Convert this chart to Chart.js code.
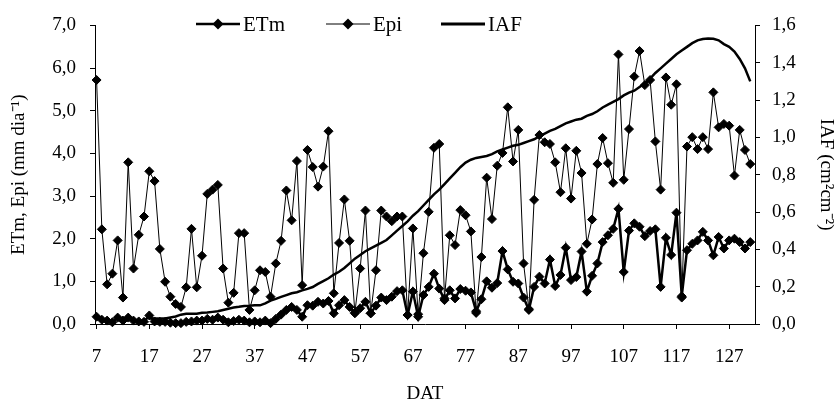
<!DOCTYPE html>
<html>
<head>
<meta charset="utf-8">
<script src="https://cdn.jsdelivr.net/npm/chart.js@4/dist/chart.umd.min.js"></script>
<style>
  html, body { margin: 0; padding: 0; background: #fff; }
  #wrap { width: 838px; height: 406px; position: relative; }
</style>
</head>
<body>
<div id="wrap"><canvas id="chart"></canvas></div>
<script>
// days after transplanting (DAT)
const days = [
  7, 8, 9, 10, 11, 12, 13, 14, 15, 16,
  17, 18, 19, 20, 21, 22, 23, 24, 25, 26,
  27, 28, 29, 30, 31, 32, 33, 34, 35, 36,
  37, 38, 39, 40, 41, 42, 43, 44, 45, 46,
  47, 48, 49, 50, 51, 52, 53, 54, 55, 56,
  57, 58, 59, 60, 61, 62, 63, 64, 65, 66,
  67, 68, 69, 70, 71, 72, 73, 74, 75, 76,
  77, 78, 79, 80, 81, 82, 83, 84, 85, 86,
  87, 88, 89, 90, 91, 92, 93, 94, 95, 96,
  97, 98, 99, 100, 101, 102, 103, 104, 105, 106,
  107, 108, 109, 110, 111, 112, 113, 114, 115, 116,
  117, 118, 119, 120, 121, 122, 123, 124, 125, 126,
  127, 128, 129, 130, 131
];
const xTicks = [7, 17, 27, 37, 47, 57, 67, 77, 87, 97, 107, 117, 127];

// ETm (mm dia-1)
const etm = [
  0.17, 0.10, 0.08, 0.04, 0.15, 0.08, 0.15, 0.08, 0.06, 0.05,
  0.20, 0.06, 0.05, 0.05, 0.03, 0.02, 0.02, 0.05, 0.06, 0.08,
  0.08, 0.12, 0.10, 0.15, 0.10, 0.04, 0.07, 0.10, 0.08, 0.04,
  0.06, 0.04, 0.08, 0.02, 0.12, 0.22, 0.33, 0.40, 0.33, 0.17,
  0.44, 0.43, 0.52, 0.48, 0.54, 0.25, 0.44, 0.56, 0.40, 0.25,
  0.37, 0.52, 0.25, 0.43, 0.62, 0.56, 0.64, 0.77, 0.79, 0.21,
  0.76, 0.17, 0.68, 0.87, 1.18, 0.83, 0.56, 0.79, 0.60, 0.82,
  0.78, 0.74, 0.30, 0.58, 1.00, 0.85, 0.96, 1.71, 1.28, 0.99,
  0.95, 0.62, 0.33, 0.87, 1.11, 0.95, 1.51, 0.89, 1.15, 1.79,
  1.03, 1.10, 1.70, 0.76, 1.13, 1.42, 1.92, 2.08, 2.23, 2.70,
  1.22, 2.19, 2.36, 2.28, 2.06, 2.18, 2.22, 0.87, 2.02, 1.62,
  2.61, 0.65, 1.73, 1.88, 1.96, 2.16, 1.96, 1.61, 2.04, 1.77,
  1.96, 2.00, 1.92, 1.77, 1.92
];

// Epi (mm dia-1)
const epi = [
  5.72, 2.22, 0.93, 1.18, 1.96, 0.62, 3.79, 1.30, 2.09, 2.52,
  3.58, 3.35, 1.76, 0.99, 0.64, 0.47, 0.40, 0.86, 2.23, 0.86,
  1.60, 3.05, 3.15, 3.26, 1.30, 0.50, 0.73, 2.13, 2.13, 0.33,
  0.79, 1.26, 1.22, 0.64, 1.42, 1.95, 3.13, 2.43, 3.82, 0.91,
  4.08, 3.68, 3.22, 3.69, 4.52, 0.72, 1.90, 2.92, 1.95, 0.27,
  1.30, 2.66, 0.25, 1.26, 2.66, 2.52, 2.41, 2.52, 2.52, 0.21,
  2.24, 0.23, 1.66, 2.63, 4.13, 4.22, 0.60, 2.08, 1.85, 2.67,
  2.55, 2.17, 0.26, 1.57, 3.43, 2.46, 3.71, 4.01, 5.08, 3.81,
  4.55, 1.42, 0.35, 2.91, 4.43, 4.26, 4.22, 3.79, 3.09, 4.12,
  2.94, 4.06, 3.54, 1.88, 2.45, 3.75, 4.36, 3.77, 3.31, 6.32,
  3.38, 4.57, 5.80, 6.40, 5.60, 5.72, 4.28, 3.15, 5.78, 5.14,
  5.62, 0.62, 4.16, 4.38, 4.10, 4.38, 4.10, 5.43, 4.61, 4.69,
  4.65, 3.48, 4.55, 4.08, 3.75
];

// IAF (cm2 cm-2), measured from 17 DAT on
const iaf = [
  null, null, null, null, null, null, null, null, null, null,
  0.03, 0.03, 0.03, 0.03, 0.035, 0.04, 0.05, 0.055, 0.055, 0.055,
  0.06, 0.062, 0.065, 0.068, 0.075, 0.082, 0.088, 0.092, 0.097, 0.098,
  0.10, 0.10, 0.11, 0.125, 0.135, 0.145, 0.155, 0.165, 0.17, 0.18,
  0.188, 0.198, 0.215, 0.23, 0.245, 0.265, 0.28, 0.30, 0.325, 0.35,
  0.37, 0.39, 0.405, 0.42, 0.435, 0.45, 0.475, 0.50, 0.525, 0.55,
  0.58, 0.605, 0.635, 0.665, 0.695, 0.72, 0.75, 0.78, 0.81, 0.84,
  0.865, 0.88, 0.89, 0.895, 0.90, 0.91, 0.925, 0.935, 0.945, 0.955,
  0.96, 0.97, 0.98, 0.99, 1.005, 1.02, 1.035, 1.045, 1.06, 1.075,
  1.085, 1.095, 1.10, 1.115, 1.125, 1.14, 1.16, 1.175, 1.19, 1.205,
  1.225, 1.24, 1.25, 1.27, 1.29, 1.315, 1.345, 1.37, 1.395, 1.42,
  1.445, 1.465, 1.485, 1.505, 1.52, 1.527, 1.53, 1.528, 1.52, 1.50,
  1.485, 1.46, 1.42, 1.37, 1.30
];

const FONT = "'Liberation Serif', 'Times New Roman', serif";
const comma = v => v.toFixed(1).replace('.', ',');
const pts = arr => days.map((d, i) => ({ x: d, y: arr[i] }));

// legend drawn like the excel one: line + diamond + text
const legendItems = [
  { text: 'ETm', x: 196, lw: 2.5, marker: true },
  { text: 'Epi', x: 326, lw: 1, marker: true },
  { text: 'IAF', x: 441, lw: 3, marker: false }
];
const legendY = 24;

function diamond(ctx, x, y, r) {
  ctx.beginPath();
  ctx.moveTo(x, y - r);
  ctx.lineTo(x + r, y);
  ctx.lineTo(x, y + r);
  ctx.lineTo(x - r, y);
  ctx.closePath();
  ctx.fill();
}

const excelLegend = {
  id: 'excelLegend',
  afterDraw(chart) {
    const ctx = chart.ctx;
    ctx.save();
    ctx.font = '21px ' + FONT;
    ctx.textBaseline = 'middle';
    ctx.strokeStyle = '#000';
    legendItems.forEach(it => {
      ctx.fillStyle = '#fff';
      ctx.fillRect(it.x - 2, legendY - 11, 100, 22);
      ctx.fillStyle = '#000';
      ctx.lineWidth = it.lw;
      ctx.beginPath();
      ctx.moveTo(it.x, legendY);
      ctx.lineTo(it.x + 44, legendY);
      ctx.stroke();
      if (it.marker) diamond(ctx, it.x + 22, legendY, 5.5);
      ctx.fillText(it.text, it.x + 47, legendY + 1);
    });
    ctx.restore();
  }
};

const tickFont = { family: FONT, size: 19 };
const titleFont = { family: FONT, size: 19 };

new Chart(document.getElementById('chart'), {
  type: 'line',
  data: {
    datasets: [
      {
        label: 'ETm',
        data: pts(etm),
        yAxisID: 'y',
        borderColor: '#000',
        backgroundColor: '#000',
        borderWidth: 2.5,
        pointStyle: 'rectRot',
        pointRadius: 4.5,
        pointBorderWidth: 1,
        pointBackgroundColor: '#000',
        clip: false
      },
      {
        label: 'Epi',
        data: pts(epi),
        yAxisID: 'y',
        borderColor: '#000',
        backgroundColor: '#000',
        borderWidth: 1,
        pointStyle: 'rectRot',
        pointRadius: 4.5,
        pointBorderWidth: 1,
        pointBackgroundColor: '#000',
        clip: false
      },
      {
        label: 'IAF',
        data: pts(iaf),
        yAxisID: 'y1',
        borderColor: '#000',
        borderWidth: 2.5,
        pointRadius: 0,
        spanGaps: false,
        clip: false
      }
    ]
  },
  options: {
    responsive: true,
    maintainAspectRatio: false,
    animation: false,
    layout: { padding: { top: 24, left: 0, right: 0, bottom: 0 } },
    plugins: {
      legend: { display: false },
      tooltip: { enabled: false }
    },
    scales: {
      x: {
        type: 'linear',
        min: 6.7,
        max: 131.9,
        afterBuildTicks: s => { s.ticks = xTicks.map(v => ({ value: v })); },
        afterFit: s => { s.height = 82; },
        grid: { drawOnChartArea: false, drawTicks: true, tickLength: 5, color: '#000' },
        border: { color: '#000', width: 1 },
        ticks: { font: tickFont, color: '#000', padding: 17, autoSkip: false, maxRotation: 0 },
        title: { display: true, text: 'DAT', font: titleFont, color: '#000', padding: { top: 0, bottom: 1 } }
      },
      y: {
        position: 'left',
        min: 0,
        max: 7,
        afterFit: s => { s.width = 95; },
        grid: { drawOnChartArea: false, drawTicks: true, tickLength: 5, color: '#000' },
        border: { color: '#000', width: 1 },
        ticks: { stepSize: 1, font: tickFont, color: '#000', padding: 14, callback: v => comma(v) },
        title: { display: true, text: 'ETm, Epi (mm dia\u207B\u00B9)', font: titleFont, color: '#000', padding: { top: 8, bottom: 0 } }
      },
      y1: {
        position: 'right',
        min: 0,
        max: 1.6,
        afterFit: s => { s.width = 83; },
        grid: { drawOnChartArea: false, drawTicks: true, tickLength: 5, color: '#000' },
        border: { color: '#000', width: 1 },
        ticks: { stepSize: 0.2, font: tickFont, color: '#000', padding: 12, callback: v => comma(v) },
        title: { display: true, text: 'IAF (cm\u00B2cm\u207B\u00B2)', font: titleFont, color: '#000', padding: { top: 1, bottom: 0 } }
      }
    }
  },
  plugins: [excelLegend]
});
</script>
</body>
</html>
